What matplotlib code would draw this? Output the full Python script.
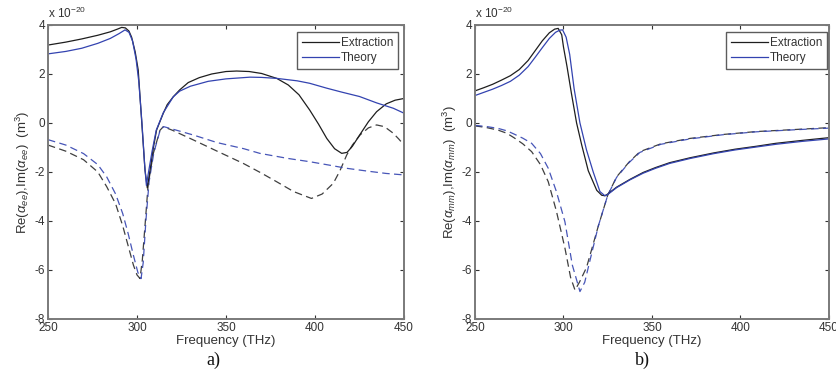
import matplotlib
matplotlib.use("Agg")
import matplotlib.pyplot as plt

plt.rcParams['font.family'] = ['Liberation Sans', 'DejaVu Sans']
plt.rcParams['mathtext.fontset'] = 'custom'
plt.rcParams['mathtext.rm'] = 'Liberation Sans'
plt.rcParams['mathtext.it'] = 'Liberation Sans:italic'
plt.rcParams['axes.unicode_minus'] = False

# ---------------- panel a) electric polarizability (units of 1e-20 m^3) ----------------
a_ext_re_f = [250, 260, 269, 278, 285, 289, 291.4, 293.5, 295.5, 297, 299, 300.7, 302.6, 304.5,
              305.8, 307.3, 309, 311, 314.8, 317, 320.4, 324, 328.8, 335, 342, 350, 356, 363,
              370, 378.5, 385, 391, 397, 402, 406.6, 411, 415, 418, 421, 425, 430, 434.6, 440,
              445, 450]
a_ext_re_v = [3.18, 3.3, 3.43, 3.58, 3.72, 3.83, 3.9, 3.88, 3.75, 3.5, 2.9, 2.16, 0.12, -1.92,
              -2.65, -1.95, -1.1, -0.29, 0.4, 0.75, 1.07, 1.35, 1.65, 1.85, 2.0, 2.1, 2.12, 2.1,
              2.02, 1.82, 1.55, 1.15, 0.53, -0.05, -0.63, -1.05, -1.24, -1.2, -0.95, -0.5, 0.05,
              0.46, 0.78, 0.93, 1.0]

a_th_re_f = [250, 260, 269, 278, 285, 290, 293.3, 295.5, 297.5, 299.5, 301, 302.8, 304.3, 305.3,
             306.5, 308.5, 310.8, 314.8, 320.4, 324, 330, 340, 350, 363.5, 370, 378.5, 390, 397,
             406.6, 415, 425, 434.6, 444, 450]
a_th_re_v = [2.82, 2.92, 3.05, 3.25, 3.45, 3.65, 3.8, 3.7, 3.35, 2.6, 1.7, 0.0, -1.7, -2.55,
             -2.0, -1.15, -0.3, 0.42, 1.07, 1.3, 1.5, 1.7, 1.8, 1.87, 1.86, 1.82, 1.72, 1.62,
             1.42, 1.26, 1.08, 0.82, 0.6, 0.4]

a_ext_im_f = [250, 260, 270, 278, 283, 288, 292, 295, 298, 300, 301.7, 303, 304.5, 306.3, 309.2,
              312.9, 314.8, 320, 331.6, 345, 359.7, 370, 378.5, 388, 398, 404, 410.3, 414,
              417.8, 421, 425.3, 430, 434.6, 439, 443.8, 447, 450]
a_ext_im_v = [-0.9, -1.15, -1.5, -2.0, -2.6, -3.3, -4.2, -5.0, -5.8, -6.2, -6.35, -5.6, -4.2,
              -2.5, -1.24, -0.3, -0.15, -0.3, -0.69, -1.15, -1.65, -2.05, -2.4, -2.8, -3.08,
              -2.9, -2.46, -1.95, -1.31, -0.9, -0.49, -0.2, -0.08, -0.15, -0.41, -0.65, -0.9]

a_th_im_f = [250, 260, 270, 278, 283, 288, 292, 295, 298, 300.5, 302.3, 303.5, 305, 306.8, 309.5,
             313, 315, 320, 331.6, 345, 360, 369, 385, 397, 408, 417.8, 430, 440, 450]
a_th_im_v = [-0.68, -0.9, -1.25, -1.7, -2.2, -2.9, -3.7, -4.5, -5.4, -6.1, -6.35, -5.7, -4.0,
             -2.4, -1.2, -0.3, -0.15, -0.25, -0.49, -0.8, -1.05, -1.24, -1.45, -1.58, -1.72,
             -1.85, -1.97, -2.06, -2.12]

# ---------------- panel b) magnetic polarizability (units of 1e-20 m^3) ----------------
b_ext_re_f = [250, 255, 260, 265, 270, 275, 280, 284, 288, 292, 295, 297, 299, 300, 302, 304.5,
              307.4, 310.3, 314, 318.8, 321.6, 323.4, 325, 330, 337.6, 345, 352, 360, 371.5,
              385, 397, 409, 420, 435, 450]
b_ext_re_v = [1.31, 1.44, 1.58, 1.75, 1.93, 2.18, 2.55, 2.95, 3.35, 3.68, 3.83, 3.86, 3.6, 3.1,
              2.3, 1.2, 0.0, -0.9, -1.95, -2.75, -2.95, -2.97, -2.9, -2.62, -2.3, -2.02, -1.82,
              -1.62, -1.42, -1.22, -1.07, -0.95, -0.83, -0.71, -0.6]

b_th_re_f = [250, 255, 260, 265, 270, 275, 280, 284, 288, 292, 295.5, 298, 299.5, 301.5, 303.5,
             306, 309.3, 313, 316.8, 320.6, 323.4, 325, 330, 337.6, 345, 352, 360, 371.5, 385,
             397, 409, 420, 435, 450]
b_th_re_v = [1.12, 1.25, 1.38, 1.53, 1.7, 1.95, 2.3, 2.68, 3.07, 3.45, 3.7, 3.79, 3.8, 3.5, 2.8,
             1.4, 0.0, -1.1, -2.0, -2.8, -2.97, -2.92, -2.64, -2.32, -2.05, -1.85, -1.65, -1.45,
             -1.25, -1.1, -0.98, -0.87, -0.75, -0.65]

b_ext_im_f = [250, 256, 263, 268, 272, 277, 282, 287, 291.4, 296, 300.8, 304, 306.5, 309, 313,
              319.7, 325, 330, 337, 343.2, 355, 371.5, 390, 409, 430, 450]
b_ext_im_v = [-0.12, -0.18, -0.29, -0.42, -0.6, -0.85, -1.17, -1.7, -2.4, -3.6, -5.1, -6.3, -6.82,
              -6.5, -5.9, -4.2, -2.95, -2.2, -1.6, -1.17, -0.85, -0.63, -0.47, -0.35, -0.27,
              -0.19]

b_th_im_f = [250, 256, 263, 268, 272, 277, 282, 287, 291.4, 296, 300.8, 305, 309.3, 312, 315,
             319.7, 325, 330, 337, 343.2, 355, 371.5, 390, 409, 430, 450]
b_th_im_v = [-0.1, -0.14, -0.22, -0.32, -0.45, -0.62, -0.83, -1.25, -1.85, -2.8, -4.03, -5.8,
             -6.88, -6.5, -5.6, -4.2, -2.95, -2.22, -1.62, -1.2, -0.87, -0.65, -0.48, -0.36,
             -0.28, -0.21]

xticks = [250, 300, 350, 400, 450]
yticks = [-8, -6, -4, -2, 0, 2, 4]
legend_labels = ["Extraction", "Theory"]
ylabels = [r'Re($\alpha_{ee}$),Im($\alpha_{ee}$)  (m$^3$)',
           r'Re($\alpha_{mm}$),Im($\alpha_{mm}$)  (m$^3$)']
panel_tags = ["a)", "b)"]

BLACK = '#1e1e1e'
BLUE = '#3343b0'
FRAME = '#7a7a7a'
TXT = '#333333'

fig = plt.figure(figsize=(8.37, 3.76), dpi=100)
ax_a = fig.add_axes([0.0573, 0.1516, 0.4254, 0.782])
ax_b = fig.add_axes([0.5675, 0.1516, 0.4229, 0.782])

panels = [
    (ax_a, a_ext_re_f, a_ext_re_v, a_th_re_f, a_th_re_v, a_ext_im_f, a_ext_im_v, a_th_im_f, a_th_im_v),
    (ax_b, b_ext_re_f, b_ext_re_v, b_th_re_f, b_th_re_v, b_ext_im_f, b_ext_im_v, b_th_im_f, b_th_im_v),
]
leg_anchor = [(0.983, 0.976), (0.9944, 0.976)]
tag_x = [213 / 837, 642 / 837]

for i, (ax, erf, erv, trf, trv, eif, eiv, tif, tiv) in enumerate(panels):
    dash = (0, (6, 3.5))
    ax.plot(eif, eiv, color=BLACK, lw=0.9, linestyle=dash, alpha=0.85)
    ax.plot(tif, tiv, color=BLUE, lw=0.9, linestyle=dash, alpha=0.9)
    l1, = ax.plot(erf, erv, color=BLACK, lw=0.9)
    l2, = ax.plot(trf, trv, color=BLUE, lw=0.9)
    ax.set_xlim(250, 450)
    ax.set_ylim(-8, 4)
    ax.set_xticks(xticks)
    ax.set_yticks(yticks)
    ax.tick_params(direction='in', length=3, width=0.8, top=True, right=True,
                   labelsize=8.5, colors=TXT, pad=2)
    for s in ax.spines.values():
        s.set_color(FRAME)
        s.set_linewidth(1.4)
    ax.set_xlabel("Frequency (THz)", fontsize=9.5, color=TXT, labelpad=1)
    ax.set_ylabel(ylabels[i], fontsize=9.5, color=TXT, labelpad=2)
    ax.text(0.0, 1.015, r'x 10$^{-20}$', transform=ax.transAxes, fontsize=8.5,
            color=TXT, ha='left', va='bottom')
    leg = ax.legend([l1, l2], legend_labels, loc='upper right', fontsize=8.5,
                    bbox_to_anchor=leg_anchor[i], bbox_transform=ax.transAxes,
                    frameon=True, fancybox=False, handlelength=3.1, handletextpad=0.2,
                    borderpad=0.4, labelspacing=0.3, borderaxespad=0.0)
    leg.get_frame().set_edgecolor(TXT)
    leg.get_frame().set_linewidth(1.0)
    for t in leg.get_texts():
        t.set_color(TXT)
    fig.text(tag_x[i], 1 - 360 / 376, panel_tags[i], fontsize=13,
             family=['Liberation Serif', 'DejaVu Serif'], ha='center', va='center',
             color='#111111')

fig.savefig("out.png", dpi=100)
